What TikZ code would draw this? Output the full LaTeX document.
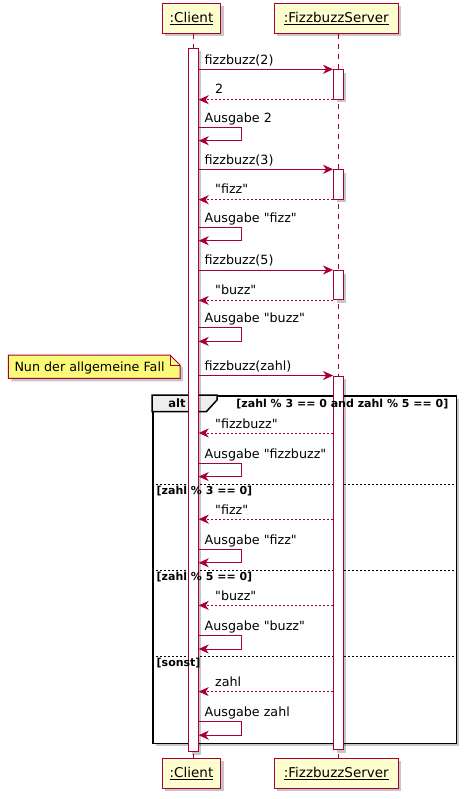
\documentclass[tikz,border=0pt]{standalone}
\usepackage{fontspec}
\newfontfamily\umlfont{DejaVu Sans}
\usetikzlibrary{arrows.meta,shadows,scopes}
\definecolor{umlred}{HTML}{A80036}
\definecolor{umlhead}{HTML}{FEFECE}
\definecolor{umlnote}{HTML}{FBFB77}
\definecolor{umltab}{HTML}{EEEEEE}
\begin{document}
\umlfont
\begin{tikzpicture}[x=1pt,y=-1pt,
  umlshadow/.style={drop shadow={shadow xshift=3pt,shadow yshift=-3pt,fill=black,opacity=0.22}},
  head/.style={draw=umlred,fill=umlhead,line width=1pt,minimum height=30pt,inner sep=0pt,umlshadow,font=\umlfont\fontsize{13.5}{16}\selectfont},
  bar/.style={draw=umlred,fill=white,line width=1pt,minimum width=9.6pt,inner sep=0pt,anchor=north,umlshadow},
  msg/.style={umlred,line width=1pt,-{Stealth[length=10pt,width=9pt,inset=3pt]}},
  ret/.style={msg,dash pattern=on 2pt off 2pt},
  life/.style={umlred,line width=1pt,dash pattern=on 5pt off 5pt},
  guard/.style={font=\umlfont\bfseries\fontsize{11}{13}\selectfont,inner sep=0pt,anchor=base west},
  lbl/.style={font=\umlfont\fontsize{12.7}{15}\selectfont,inner sep=0pt,anchor=base west}]
  \useasboundingbox (0,0) rectangle (465,799);
  \coordinate (cl) at (193.4,0);
  \coordinate (sl) at (338.4,0);
  \node [draw,line width=1.5pt,fill=white,umlshadow,inner sep=0pt,anchor=north west,
    minimum width=303.5pt,minimum height=347.7pt] (alt) at (152,395) {};
  \draw [line width=1.5pt,fill=umltab] (alt.north west) -- ++(65,0) -- ++(0,5)
    -- ++(-10.7,11.7) -- ++(-54.3,0) -- cycle;
  \foreach \y in {484.3,570.5,656.7}
    \draw [line width=1pt,dash pattern=on 2pt off 2pt] (alt.west |- 0,\y) -- (alt.east |- 0,\y);
  \path;
  { [every node/.style={head,minimum width=58.5pt}]
    \node (chead) at (191.5,18.3) {\underline{:Client}};
    \node (cfoot) at (191.5,773.3) {\underline{:Client}};
  }
  { [every node/.style={head,minimum width=124pt}]
    \node (shead) at (336.3,18.3) {\underline{:FizzbuzzServer}};
    \node (sfoot) at (336.3,773.3) {\underline{:FizzbuzzServer}};
  }
  \draw [life] (chead.south -| cl) -- (cfoot.north -| cl);
  \draw [life] (shead.south -| sl) -- (sfoot.north -| sl);
  \node [bar,minimum height=703pt] (cbar) at (193.4,48) {};
  \foreach \n/\y/\h in {1/69.3/29.4,2/169.3/29.4,3/270/29.4,4/375.5/373.8}
    \node [bar,minimum height=\h pt] (sbar\n) at (338.4,\y) {};
  \node [font=\umlfont\bfseries\fontsize{11.5}{14}\selectfont,inner sep=0pt,anchor=base] (altlbl) at (177,407.5) {alt};
  \node [guard,anchor=base east] (altguard) at (448.5,407.5) {[zahl \% 3 == 0 and zahl \% 5 == 0]};
  \foreach \y/\g in {484.3/{[zahl \% 3 == 0]},570.5/{[zahl \% 5 == 0]},656.7/{[sonst]}}
    \node [guard] at (156.5,\y+10) {\g};
  \foreach \n/\y/\call/\res in {1/69.3/fizzbuzz(2)/2,2/169.3/fizzbuzz(3)/"fizz",3/270/fizzbuzz(5)/"buzz"} {
    \draw [msg] (cbar.east |- sbar\n.north) -- (sbar\n.north west);
    \node [lbl] at (204.5,\y-5) {\call};
    \draw [ret] (sbar\n.south west) -- (cbar.east |- sbar\n.south);
    \node [lbl] at (215,\y+24.4) {\res};
    \draw [msg] (cbar.east |- 0,\y+57.8) -- ++(42.4,0) -- ++(0,13.6) -- ++(-42.4,0);
    \node [lbl] at (204.5,\y+52.8) {Ausgabe \res};
  }
  \draw [umlred,line width=1pt,fill=umlnote,umlshadow] (8.3,355) -- (170,355) -- (180,365)
    -- (180,378.3) -- (8.3,378.3) -- cycle;
  \draw [umlred,line width=1pt] (170,355) -- (170,365) -- (180,365);
  \node [lbl] (note) at (14.3,371.5) {Nun der allgemeine Fall};
  \draw [msg] (cbar.east |- sbar4.north) -- (sbar4.north west);
  \node [lbl] at (204.5,370.5) {fizzbuzz(zahl)};
  \foreach \k/\res [evaluate=\k as \y using 433+86.2*\k] in {0/"fizzbuzz",1/"fizz",2/"buzz",3/zahl} {
    \draw [ret] (sbar4.west |- 0,\y) -- (cbar.east |- 0,\y);
    \node [lbl] at (215,\y-5) {\res};
    \draw [msg] (cbar.east |- 0,\y+30) -- ++(42.4,0) -- ++(0,13.6) -- ++(-42.4,0);
    \node [lbl] at (204.5,\y+25) {Ausgabe \res};
  }
\end{tikzpicture}
\end{document}
